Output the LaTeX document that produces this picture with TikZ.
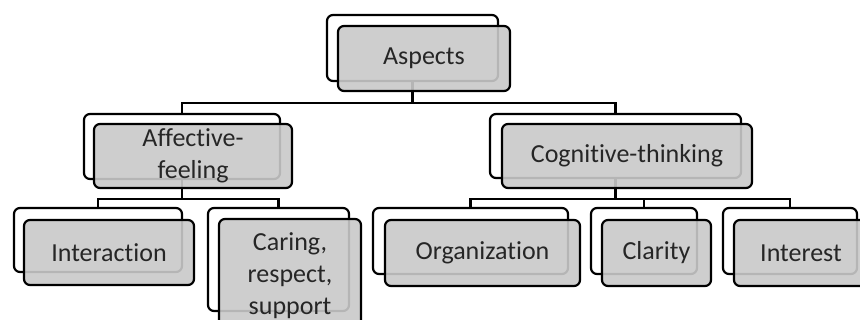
\documentclass[tikz,border=0pt]{standalone}
\usepackage{fontspec}
\setmainfont[Ligatures={NoCommon}]{Carlito}
\definecolor{boxgray}{RGB}{201,201,201}
\begin{document}
\begin{tikzpicture}[x=1pt,y=-1pt,
  backbox/.style={draw=black, line width=2.2pt, fill=white, rounded corners=6pt, inner sep=0pt},
  frontbox/.style={draw=black, line width=2.2pt, fill=boxgray, fill opacity=0.9, draw opacity=1, text opacity=1,
     rounded corners=6pt, inner sep=0pt, align=center, font=\fontsize{26}{32}\selectfont, text=black!85},
  conn/.style={draw=black, line width=2.2pt}]
\useasboundingbox (0,0) rectangle (860,320);
\clip (0,0) rectangle (860,320);
% back boxes
\node[backbox, minimum width=171pt, minimum height=66pt] (aB) at (412.5,48) {};
\node[backbox, minimum width=196pt, minimum height=65pt] (afB) at (182,146.5) {};
\node[backbox, minimum width=251pt, minimum height=64pt] (cgB) at (615.5,146) {};
\node[backbox, minimum width=168pt, minimum height=64pt] (inB) at (98,240) {};
\node[backbox, minimum width=141pt, minimum height=103pt] (caB) at (278.5,259.5) {};
\node[backbox, minimum width=195pt, minimum height=66pt] (orB) at (470.5,241) {};
\node[backbox, minimum width=106pt, minimum height=66pt] (clB) at (644,241) {};
\node[backbox, minimum width=134pt, minimum height=66pt] (itB) at (790,241) {};
% connectors
\draw[conn] (aB.south) -- (aB.south |- 0,103) -| (afB.north);
\draw[conn] (aB.south |- 0,103) -| (cgB.north);
\draw[conn] (afB.south) -- (afB.south |- 0,199) -| (inB.north);
\draw[conn] (afB.south |- 0,199) -| (caB.north);
\draw[conn] (cgB.south) -- (cgB.south |- 0,199) -| (orB.north);
\draw[conn] (cgB.south |- 0,199) -| (clB.north);
\draw[conn] (cgB.south |- 0,199) -| (itB.north);
% front boxes
\node[frontbox, minimum width=172pt, minimum height=65pt] (a) at (424,58.5) {Aspects};
\node[frontbox, minimum width=198pt, minimum height=64pt] (af) at (193,156) {Affective-\\feeling};
\node[frontbox, minimum width=250pt, minimum height=64pt] (cg) at (627,156) {Cognitive-thinking};
\node[frontbox, minimum width=170pt, minimum height=65pt] (in) at (109,252.5) {Interaction};
\node[frontbox, minimum width=142pt, minimum height=114pt] (ca) at (290,276) {Caring,\\respect,\\support};
\node[frontbox, minimum width=195pt, minimum height=66pt] (or) at (482.5,253) {Organization};
\node[frontbox, minimum width=109pt, minimum height=66pt] (cl) at (656.5,253) {Clarity};
\node[frontbox, minimum width=134pt, minimum height=66pt] (it) at (801,253) {Interest};
\end{tikzpicture}
\end{document}
